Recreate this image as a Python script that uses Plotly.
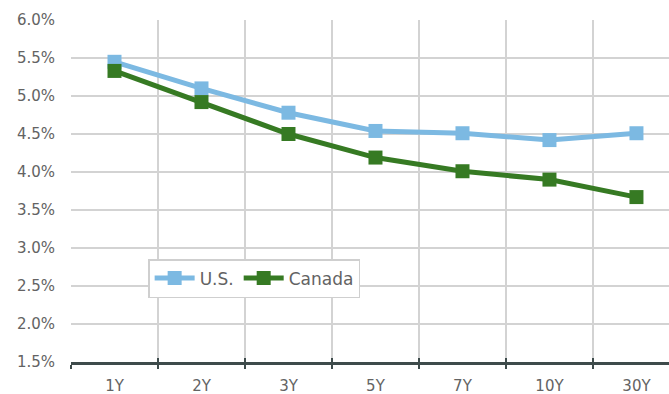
import plotly.graph_objects as go

# Yield curve by maturity (percent)
maturities = ["1Y", "2Y", "3Y", "5Y", "7Y", "10Y", "30Y"]
us_yields = [5.45, 5.10, 4.78, 4.54, 4.51, 4.42, 4.51]
canada_yields = [5.33, 4.92, 4.50, 4.19, 4.01, 3.90, 3.67]
y_ticks = [1.5, 2.0, 2.5, 3.0, 3.5, 4.0, 4.5, 5.0, 5.5, 6.0]

US_BLUE = "#7cb9e2"
CA_GREEN = "#367a23"
GRID = "#d3d3d3"
AXIS_DARK = "#3e4b4b"
TEXT = "#636363"
FONT = "'DejaVu Sans', sans-serif"

fig = go.Figure()
fig.add_trace(go.Scatter(
    x=maturities, y=us_yields, name="U.S.", mode="lines+markers",
    line=dict(color=US_BLUE, width=5),
    marker=dict(symbol="square", size=14, color=US_BLUE),
))
fig.add_trace(go.Scatter(
    x=maturities, y=canada_yields, name="Canada", mode="lines+markers",
    line=dict(color=CA_GREEN, width=5),
    marker=dict(symbol="square", size=14, color=CA_GREEN),
))
# invisible trace on an overlaid axis to get inward tick marks on the baseline
fig.add_trace(go.Scatter(
    x=maturities, y=canada_yields, xaxis="x2", mode="lines",
    line=dict(width=0), hoverinfo="skip", showlegend=False, opacity=0,
))

x_range = [-0.5, 6.374]
fig.update_layout(
    width=669, height=394,
    margin=dict(l=71, r=0, t=20, b=32),
    paper_bgcolor="white", plot_bgcolor="white",
    font=dict(family=FONT, color=TEXT),
    xaxis=dict(
        type="category", range=x_range, tickson="boundaries",
        showgrid=True, gridcolor=GRID, gridwidth=1.5,
        showline=True, linecolor=AXIS_DARK, linewidth=2.5,
        ticks="outside", ticklen=4, tickwidth=2, tickcolor=AXIS_DARK,
        tickfont=dict(size=15, color=TEXT, family=FONT),
        ticklabelstandoff=8, automargin=False,
        zeroline=False,
    ),
    xaxis2=dict(
        type="category", range=x_range, tickson="boundaries", overlaying="x",
        anchor="y", side="bottom", showgrid=False, showticklabels=False,
        ticks="inside", ticklen=4, tickwidth=2, tickcolor=AXIS_DARK,
        showline=False, zeroline=False,
    ),
    yaxis=dict(
        range=[1.5, 6.0], tickvals=y_ticks,
        ticktext=[f"{v:.1f}%" for v in y_ticks],
        showgrid=True, gridcolor=GRID, gridwidth=1.5,
        showline=False, zeroline=False, ticks="", ticklabelstandoff=15,
        tickfont=dict(size=15, color=TEXT, family=FONT),
    ),
    legend=dict(
        orientation="h", x=0.129, y=0.301, xanchor="left", yanchor="top",
        bgcolor="white", bordercolor="#cfcfcf", borderwidth=1.5,
        font=dict(size=17, color=TEXT, family=FONT),
        itemwidth=40, tracegroupgap=0,
    ),
    showlegend=True,
)

fig.write_html("out.html")
